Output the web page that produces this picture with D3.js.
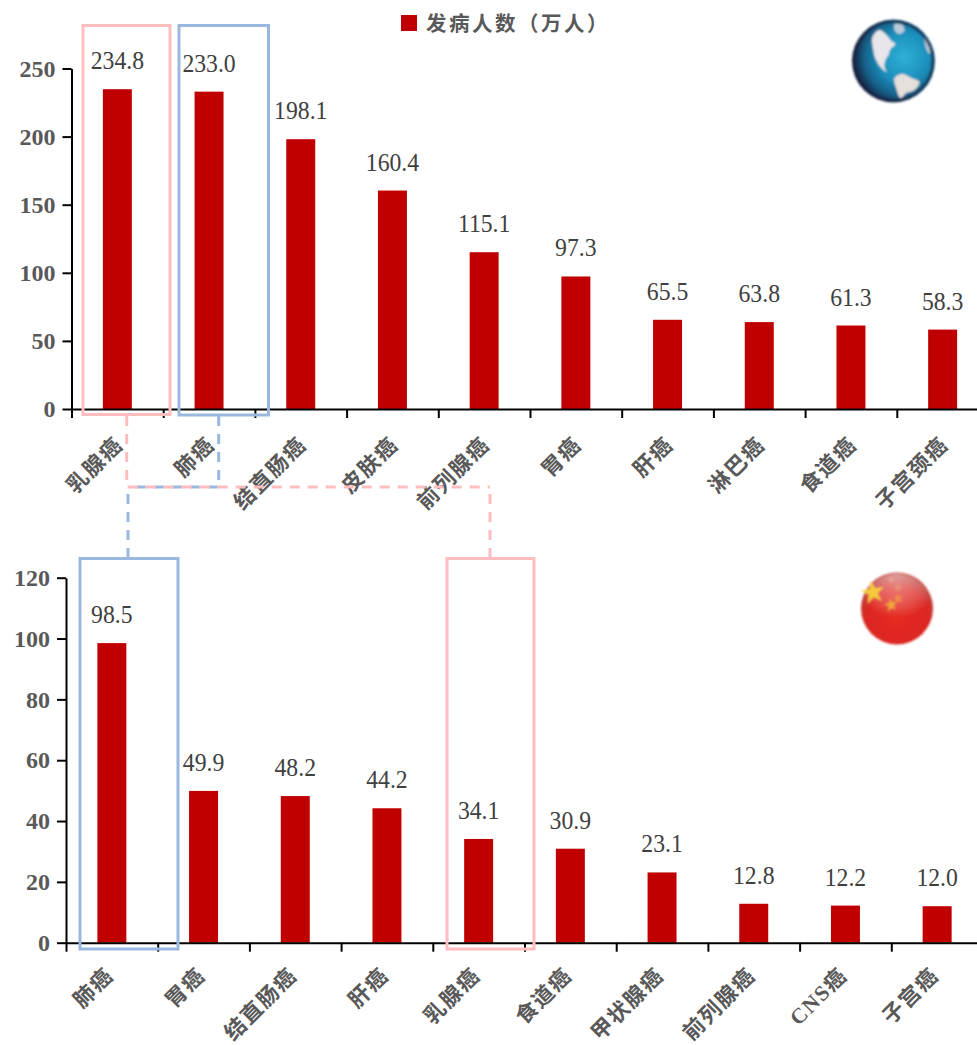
<!DOCTYPE html>
<html>
<head>
<meta charset="utf-8">
<script src="https://cdnjs.cloudflare.com/ajax/libs/d3/7.8.5/d3.min.js"></script>
<style>
  html, body { margin: 0; padding: 0; background: #fff; }
  svg { display: block; }
  .num { font-family: "Liberation Serif", serif; }
  .cjk { font-family: "Liberation Serif", "Noto Sans CJK SC", sans-serif; }
</style>
</head>
<body>
<svg id="chart" width="977" height="1045"></svg>
<script>
// new cases, in units of 10k people
var worldCategories = ['乳腺癌', '肺癌', '结直肠癌', '皮肤癌', '前列腺癌', '胃癌', '肝癌', '淋巴癌', '食道癌', '子宫颈癌'];
var worldValues = [234.8, 233.0, 198.1, 160.4, 115.1, 97.3, 65.5, 63.8, 61.3, 58.3];
var worldTicks = [0, 50, 100, 150, 200, 250];

var chinaCategories = ['肺癌', '胃癌', '结直肠癌', '肝癌', '乳腺癌', '食道癌', '甲状腺癌', '前列腺癌', 'CNS癌', '子宫癌'];
var chinaValues = [98.5, 49.9, 48.2, 44.2, 34.1, 30.9, 23.1, 12.8, 12.2, 12.0];
var chinaTicks = [0, 20, 40, 60, 80, 100, 120];

var legendLabel = '发病人数（万人）';

var RED = '#C00000', PINK = '#FFBDC0', BLUE = '#9AB8DD', GREY = '#595959', LABEL = '#404040';

var svg = d3.select('#chart');
var defs = svg.append('defs');

// one bar panel: y axis on the left, x ticks between the categories
function drawPanel(opts) {
  var n = opts.categories.length;
  var step = 91.7;
  var x = d3.scaleBand().domain(opts.categories)
    .range([opts.left, opts.left + step * n])
    .paddingInner(0.684).paddingOuter(0.342);
  var xTicks = d3.scaleLinear().domain([0, n]).range([opts.left, opts.left + step * n]);
  var y = d3.scaleLinear().domain([0, opts.yMax]).range([opts.bottom, opts.top]);
  var g = svg.append('g');

  g.selectAll('rect.bar').data(opts.values).enter().append('rect')
    .attr('class', 'bar')
    .attr('x', function(d, i) { return x(opts.categories[i]); })
    .attr('y', function(d) { return y(d); })
    .attr('width', x.bandwidth())
    .attr('height', function(d) { return opts.bottom - y(d); })
    .attr('fill', RED);

  var yAxis = g.append('g')
    .attr('transform', 'translate(' + opts.left + ',0)')
    .call(d3.axisLeft(y).tickValues(opts.ticks).tickSize(9).tickSizeOuter(0).tickPadding(7));
  yAxis.selectAll('path, line').attr('stroke', '#000').attr('stroke-width', 2);
  yAxis.selectAll('text')
    .attr('class', 'num')
    .attr('font-size', 24)
    .attr('font-weight', 'bold')
    .attr('fill', GREY)
    .style('font-family', '"Liberation Serif", serif');

  var xAxis = g.append('g')
    .attr('transform', 'translate(0,' + opts.bottom + ')')
    .call(d3.axisBottom(xTicks).tickValues(d3.range(0, n + 1)).tickFormat('').tickSize(9).tickSizeOuter(0));
  xAxis.selectAll('path, line').attr('stroke', '#000').attr('stroke-width', 2);

  // the numerals run a little narrow, hence the horizontal squeeze
  g.selectAll('text.value').data(opts.values).enter().append('text')
    .attr('class', 'value num')
    .attr('transform', function(d, i) {
      return 'translate(' + (x(opts.categories[i]) + x.bandwidth() / 2) + ',' + (y(d) - 20) + ') scale(0.93,1)';
    })
    .attr('text-anchor', 'middle')
    .attr('font-size', 25.5)
    .attr('fill', LABEL)
    .text(function(d) { return d.toFixed(1); });

  g.selectAll('text.cat').data(opts.categories).enter().append('text')
    .attr('class', 'cat cjk')
    .attr('transform', function(d) {
      return 'translate(' + (x(d) + x.bandwidth() / 2 + opts.labelDx) + ',' + (opts.bottom + opts.labelDy) + ') rotate(-45)';
    })
    .attr('text-anchor', 'end')
    .attr('dominant-baseline', 'central')
    .attr('font-size', 21.5)
    .attr('font-weight', 'bold')
    .attr('letter-spacing', 1.5)
    .attr('fill', GREY)
    .text(function(d) { return d; });
}

drawPanel({ categories: worldCategories, values: worldValues, ticks: worldTicks, yMax: 250,
  left: 71.5, top: 68.5, bottom: 409, labelDx: 2, labelDy: 32 });
drawPanel({ categories: chinaCategories, values: chinaValues, ticks: chinaTicks, yMax: 120,
  left: 66, top: 577.7, bottom: 942.7, labelDx: -2, labelDy: 29 });

// highlight frames and the dashed links between the two rankings
function frame(x0, y0, x1, y1, colour) {
  svg.append('rect')
    .attr('x', x0).attr('y', y0)
    .attr('width', x1 - x0).attr('height', y1 - y0)
    .attr('fill', 'none').attr('stroke', colour).attr('stroke-width', 3);
}
function link(points, colour) {
  svg.append('path')
    .attr('d', d3.line()(points))
    .attr('fill', 'none').attr('stroke', colour).attr('stroke-width', 3)
    .attr('stroke-dasharray', '10 8');
}
frame(83, 25.5, 170, 414.5, PINK);
frame(179, 25.5, 268.5, 415, BLUE);
frame(80, 558.5, 178, 949, BLUE);
frame(447, 558.5, 534, 949, PINK);
// the lower legs start at the frame so each one meets it with a dash
link([[218.7, 416], [218.7, 487], [128, 487]], BLUE);
link([[128, 558], [128, 488]], BLUE);
link([[126.7, 416], [126.7, 487], [490, 487]], PINK);
link([[490, 558], [490, 488]], PINK);

// legend
svg.append('rect').attr('x', 401).attr('y', 15).attr('width', 16).attr('height', 16).attr('fill', RED);
svg.append('text')
  .attr('class', 'cjk')
  .attr('x', 426).attr('y', 24)
  .attr('dominant-baseline', 'central')
  .attr('font-size', 20.5)
  .attr('font-weight', 'bold')
  .attr('letter-spacing', 2.5)
  .attr('fill', GREY)
  .text(legendLabel);

// soft edge shared by the two round badges
defs.append('filter').attr('id', 'soft')
  .attr('x', '-10%').attr('y', '-10%').attr('width', '120%').attr('height', '120%')
  .append('feGaussianBlur').attr('stdDeviation', 1.2);

function radial(id, cx, cy, r, stops) {
  var grad = defs.append('radialGradient').attr('id', id)
    .attr('cx', cx).attr('cy', cy).attr('r', r);
  stops.forEach(function(s) {
    grad.append('stop').attr('offset', s[0]).attr('stop-color', s[1]).attr('stop-opacity', s[2] === undefined ? 1 : s[2]);
  });
}

// globe badge
radial('ocean', 0.62, 0.45, 0.6, [[0, '#2FB0D8'], [0.5, '#1C8FBC'], [0.8, '#135E86'], [1, '#1A2340']]);
var globe = svg.append('g').attr('transform', 'translate(893.5,61)').attr('filter', 'url(#soft)');
globe.append('circle').attr('r', 41.5).attr('fill', 'url(#ocean)');
var landLine = d3.line().curve(d3.curveCatmullRomClosed);
var globeClip = defs.append('clipPath').attr('id', 'globe-clip');
globeClip.append('circle').attr('r', 40);
var land = globe.append('g').attr('clip-path', 'url(#globe-clip)');
// north america
land.append('path').attr('fill', '#E8E6EA').attr('d', landLine([
  [-21, -24], [-14, -31], [-7, -26], [-2, -20], [2, -17], [-3, -12], [-5, -6], [-8, -1],
  [-9, 6], [-7, 11], [-13, 6], [-18, -2], [-20, -10]
]));
// greenland and the northern islands
land.append('path').attr('fill', '#B9CBD8').attr('d', landLine([
  [1, -37], [9, -36], [11, -30], [5, -27], [1, -31]
]));
land.append('path').attr('fill', '#B5C6D4').attr('d', landLine([
  [31, -28], [37, -18], [36, -7], [32, -14]
]));
// south america
land.append('path').attr('fill', '#E6E0DC').attr('d', landLine([
  [1, 17], [9, 13], [18, 17], [26, 21], [21, 29], [13, 32], [7, 37], [3, 28]
]));
globe.append('circle').attr('r', 39.5).attr('fill', 'none').attr('stroke', '#1A2340').attr('stroke-width', 3).attr('opacity', 0.75);

// china flag badge
radial('flagRed', 0.5, 0.62, 0.55, [[0, '#E52A20'], [0.75, '#DD2620'], [1, '#C03A36']]);
radial('gloss', 0.5, 0.02, 0.62, [[0, '#FFFFFF', 0.5], [0.7, '#FFFFFF', 0.2], [1, '#FFFFFF', 0]]);
var flag = svg.append('g').attr('transform', 'translate(897,608.5)').attr('filter', 'url(#soft)');
flag.append('circle').attr('r', 36).attr('fill', 'url(#flagRed)');
flag.append('circle').attr('r', 35).attr('fill', 'url(#gloss)');
var stars = [[-24, -16, 170, '#F6C93A'], [-6, -3.5, 55, '#F3A83A'], [1, -10, 35, '#F0904A'], [1, -21, 28, '#E9907A'], [-6, -29, 24, '#E9A090']];
stars.forEach(function(s) {
  flag.append('path')
    .attr('transform', 'translate(' + s[0] + ',' + s[1] + ') rotate(-10)')
    .attr('d', d3.symbol().type(d3.symbolStar).size(s[2])())
    .attr('fill', s[3]);
});
</script>
</body>
</html>
